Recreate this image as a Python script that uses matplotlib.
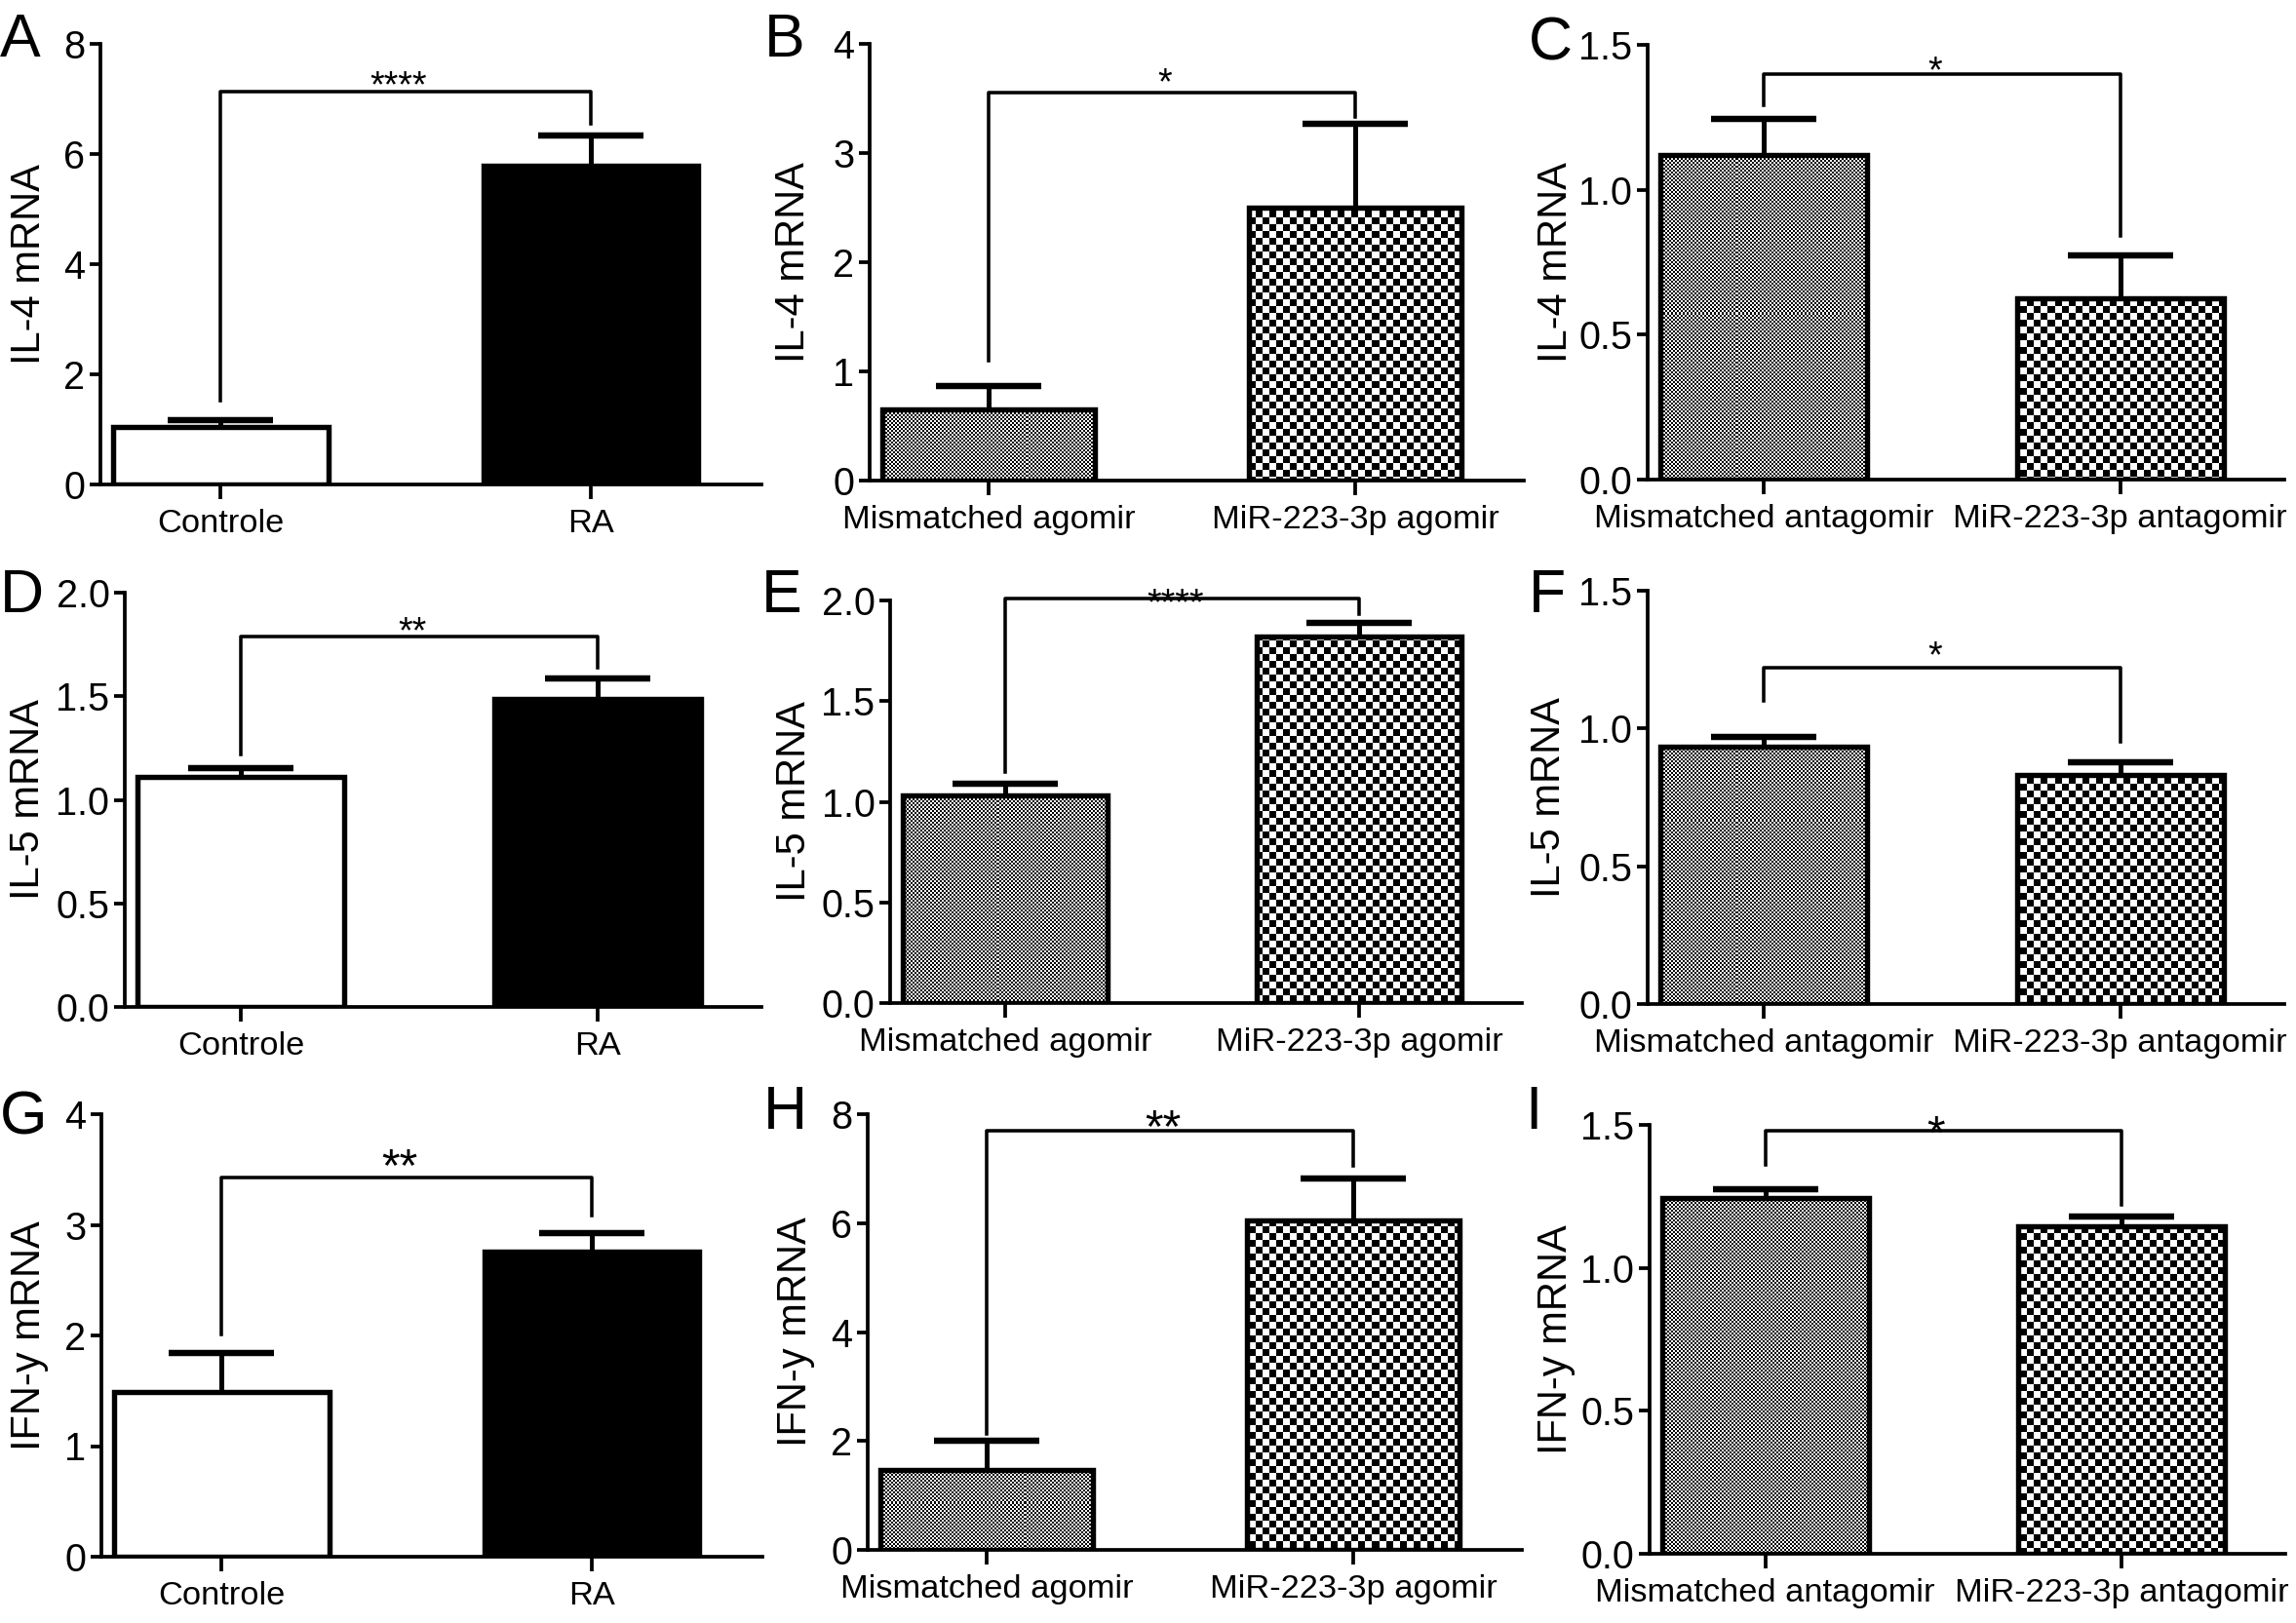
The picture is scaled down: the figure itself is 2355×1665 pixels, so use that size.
import numpy as np
import matplotlib
matplotlib.use('Agg')
import matplotlib.pyplot as plt

W, H, DPI = 2355, 1665, 150

# no narrow Helvetica here, so Arial-metric Liberation Sans at sizes matched to the text widths
plt.rcParams['font.family'] = ['Liberation Sans', 'DejaVu Sans']

# ---- data ----
letters = ['A', 'B', 'C', 'D', 'E', 'F', 'G', 'H', 'I']
groups_ra = ['Controle', 'RA']
groups_ago = ['Mismatched agomir', 'MiR-223-3p agomir']
groups_anta = ['Mismatched antagomir', 'MiR-223-3p antagomir']
row_ylabels = ['IL-4 mRNA', 'IL-5 mRNA', 'IFN-y mRNA']

means_a = [1.04, 5.79]
sem_a = [0.13, 0.54]
means_b = [0.65, 2.50]
sem_b = [0.22, 0.77]
means_c = [1.12, 0.625]
sem_c = [0.125, 0.147]
means_d = [1.11, 1.485]
sem_d = [0.045, 0.10]
means_e = [1.03, 1.82]
sem_e = [0.062, 0.067]
means_f = [0.935, 0.83]
sem_f = [0.035, 0.047]
means_g = [1.49, 2.76]
sem_g = [0.35, 0.165]
means_h = [1.47, 6.05]
sem_h = [0.53, 0.76]
means_i = [1.246, 1.146]
sem_i = [0.03, 0.034]

y_max = [8, 4, 1.5, 2.0, 2.0, 1.5, 4, 8, 1.5]
y_step = [2, 1, 0.5, 0.5, 0.5, 0.5, 1, 2, 0.5]
y_fmt = ['%d', '%d', '%.1f', '%.1f', '%.1f', '%.1f', '%d', '%d', '%.1f']

# significance brackets: bar height, left leg end, right leg end
bracket_y = [7.13, 3.55, 1.40, 1.79, 2.01, 1.22, 3.43, 7.69, 1.48]
bracket_lo = [1.53, 1.10, 1.29, 1.22, 1.15, 1.10, 2.01, 2.13, 1.36]
bracket_hi = [6.55, 3.33, 0.84, 1.64, 1.93, 0.95, 3.08, 7.05, 1.22]
stars = ['****', '*', '*', '**', '****', '*', '**', '**', '*']
star_y = [7.40, 3.73, 1.44, 1.857, 2.03, 1.297, 3.63, 7.97, 1.51]

means = [means_a, means_b, means_c, means_d, means_e, means_f, means_g, means_h, means_i]
sems = [sem_a, sem_b, sem_c, sem_d, sem_e, sem_f, sem_g, sem_h, sem_i]

# ---- layout (pixels, origin top-left): left, top, right, bottom of each axes ----
rects = [(103, 45, 781, 497), (892, 45, 1563, 493), (1690, 46, 2343, 492),
         (128, 608, 781, 1033), (913, 616, 1561, 1029), (1690, 606, 2343, 1030),
         (104, 1143, 782, 1597), (890, 1143, 1561, 1590), (1692, 1154, 2344, 1594)]
ylabel_x = [30, 814, 1596, 29, 815, 1589, 30, 816, 1596]
letter_pos = [(0, 12), (784, 12), (1568, 15), (0, 582), (781, 582), (1568, 582),
              (0, 1118), (783, 1112), (1564, 1112)]

XLIM = (-0.325, 1.46)
BAR_W = 0.58

fig = plt.figure(figsize=(W / DPI, H / DPI), dpi=DPI)
fig.patch.set_facecolor('white')


def checker_fill(ax, bar, cell):
    # checkerboard texture in screen pixels, clipped to the bar outline
    bb = bar.get_window_extent()
    px0, px1 = int(np.floor(bb.x0)), int(np.ceil(bb.x1))
    py0, py1 = int(np.floor(bb.y0)), int(np.ceil(bb.y1))
    xs = np.arange(px0, px1)
    ys = np.arange(py0, py1)
    pat = ((xs // cell)[None, :] + (ys // cell)[:, None]) % 2
    inv = ax.transData.inverted()
    (x0, y0), (x1, y1) = inv.transform([(px0, py0), (px1, py1)])
    im = ax.imshow(pat, cmap='gray', vmin=0, vmax=1, origin='lower',
                   extent=(x0, x1, y0, y1), interpolation='nearest',
                   aspect='auto', zorder=2)
    im.set_clip_path(bar)


for k, letter in enumerate(letters):
    row, col = divmod(k, 3)
    l, t, r, b = rects[k]
    ax = fig.add_axes([l / W, 1 - b / H, (r - l) / W, (b - t) / H])
    ax.set_xlim(*XLIM)
    ax.set_ylim(0, y_max[k])
    ax.set_autoscale_on(False)

    x = np.arange(2)
    if col == 0:
        bars = ax.bar(x, means[k], width=BAR_W, color=['white', 'black'],
                      edgecolor='black', linewidth=2.6, zorder=3)
        names = groups_ra
    else:
        bars = ax.bar(x, means[k], width=BAR_W, facecolor='none',
                      edgecolor='black', linewidth=2.6, zorder=3)
        checker_fill(ax, bars[0], 2)
        checker_fill(ax, bars[1], 7)
        names = groups_ago if col == 1 else groups_anta

    # upper SEM only, no cap sitting on the bar top
    eb = ax.errorbar(x, means[k], yerr=[np.zeros(2), sems[k]], fmt='none',
                     ecolor='black', elinewidth=2.4, capsize=26, capthick=3.1,
                     zorder=4)
    eb[1][0].set_visible(False)

    # significance bracket
    ax.plot([0, 0, 1, 1], [bracket_lo[k], bracket_y[k], bracket_y[k], bracket_hi[k]],
            color='black', lw=1.7, clip_on=False, zorder=5)
    fs_star = 23 if row == 2 else 18
    ax.annotate(stars[k], xy=(0.48, star_y[k]), xytext=(0, -0.55 * fs_star),
                textcoords='offset points', ha='center', va='baseline',
                fontsize=fs_star, annotation_clip=False)

    ax.set_xticks(x)
    ax.set_xticklabels(names, fontsize=16.5)
    ticks = np.arange(0, y_max[k] + 1e-9, y_step[k])
    ax.set_yticks(ticks)
    ax.set_yticklabels([y_fmt[k] % v for v in ticks], fontsize=19)

    for side in ['top', 'right']:
        ax.spines[side].set_visible(False)
    for side in ['left', 'bottom']:
        ax.spines[side].set_linewidth(1.8)
    ax.tick_params(axis='x', direction='out', length=7, width=1.8, pad=5)
    ax.tick_params(axis='y', direction='out', length=5.5, width=1.8, pad=2)

    ax.set_ylabel(row_ylabels[row], fontsize=20)
    ax.yaxis.set_label_coords((ylabel_x[k] - l) / (r - l), 0.5)
    ax.yaxis.label.set_verticalalignment('center')

    lx, ly = letter_pos[k]
    fig.text(lx / W, 1 - ly / H, letter, fontsize=30, ha='left', va='top')

fig.savefig('out.png', dpi=DPI, facecolor='white')
